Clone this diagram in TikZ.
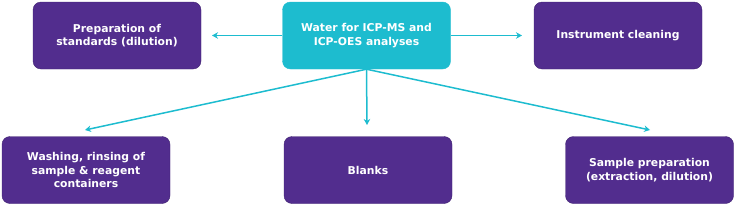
\documentclass[tikz,border=0pt]{standalone}
\usepackage{fontspec}
\setmainfont{DejaVu Sans}
\usetikzlibrary{arrows.meta}
\definecolor{usepurple}{RGB}{82,45,142}
\definecolor{waterteal}{RGB}{29,188,207}
\tikzset{
  usebox/.style={fill=usepurple, draw=usepurple!80!black, rounded corners=8pt,
    minimum width=168pt, minimum height=67pt, text=white, align=center,
    font=\bfseries\fontsize{10.8}{13.6}\selectfont},
  waterbox/.style={usebox, fill=waterteal, draw=waterteal},
  flow/.style={draw=waterteal, line width=1.5pt, -{Stealth[length=6pt,width=6.5pt]}}
}
\begin{document}
\begin{tikzpicture}[x=1pt, y=-1pt]
  \useasboundingbox (0,0) rectangle (736,206);
  \node[waterbox] (water) at (366.5,35.5) {Water for ICP-MS and\\ICP-OES analyses};
  \node[usebox] (standards) at (117,35.5) {Preparation of\\standards (dilution)};
  \node[usebox] (cleaning) at (618,35.5) {Instrument cleaning};
  \node[usebox] (washing) at (86,170) {Washing, rinsing of\\sample \& reagent\\containers};
  \node[usebox] (blanks) at (368,170) {Blanks};
  \node[usebox] (sample) at (649.5,170) {Sample preparation\\(extraction, dilution)};
  % arrows from the water box
  \coordinate (standards end) at (212,35.5);
  \coordinate (cleaning end) at (522,35.5);
  \coordinate (washing end) at (85,130);
  \coordinate (blanks end) at (367,125);
  \coordinate (sample end) at (650,130);
  \draw[flow] (water.west) -- (standards end);
  \draw[flow] (water.east) -- (cleaning end);
  \draw[flow] (water.south) -- (washing end);
  \draw[flow] (water.south) -- (blanks end);
  \draw[flow] (water.south) -- (sample end);
\end{tikzpicture}
\end{document}
